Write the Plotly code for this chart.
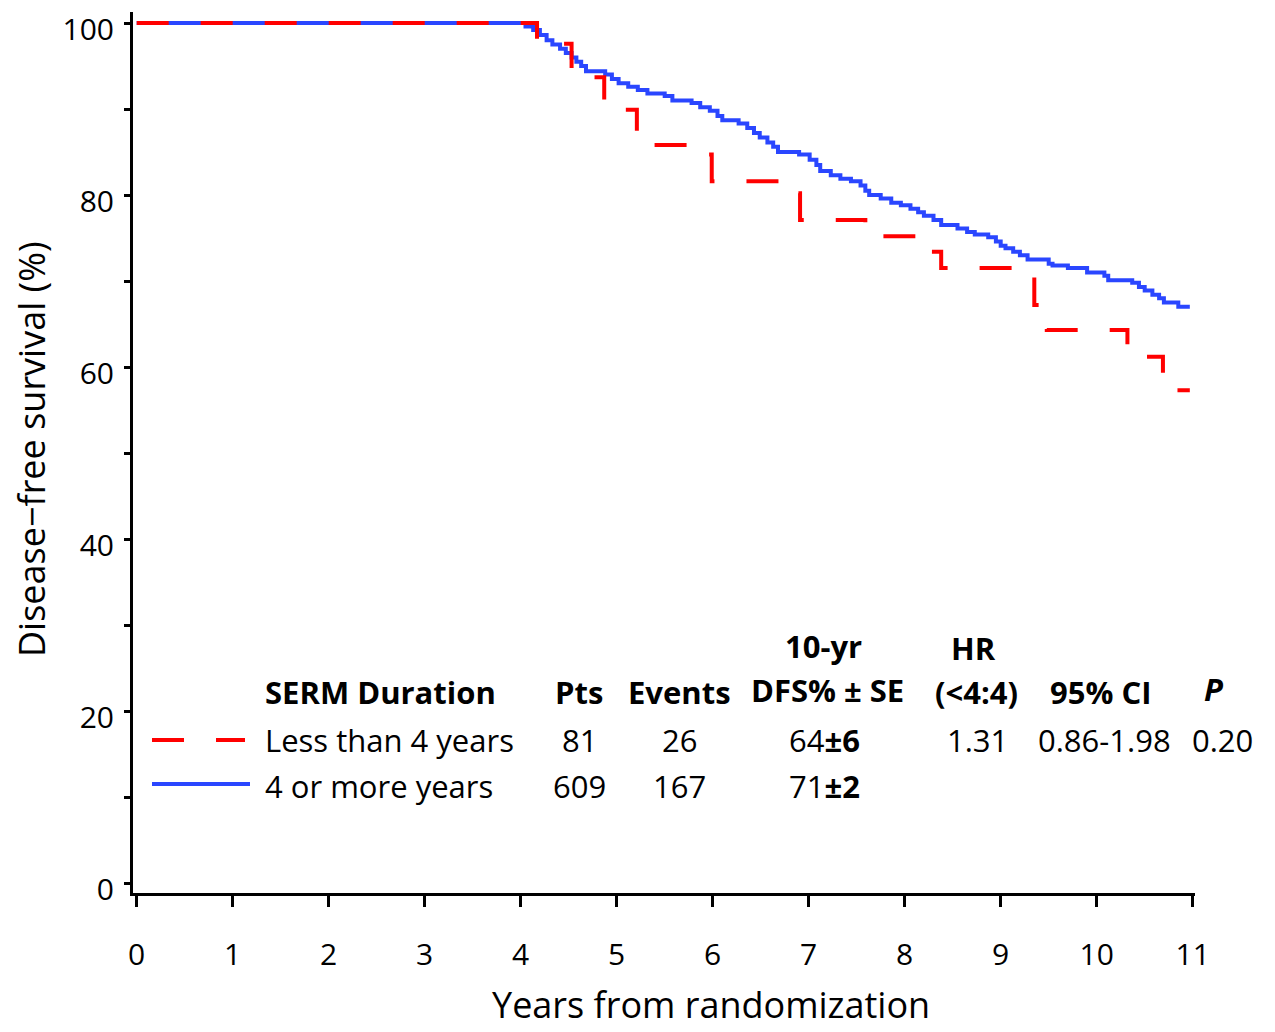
import plotly.graph_objects as go

# ---------------- data ----------------
blue_t = [0, 4.05, 4.13, 4.20, 4.27, 4.33, 4.41, 4.47, 4.53, 4.58, 4.63, 4.68, 4.88, 4.95,
          5.02, 5.12, 5.22, 5.32, 5.50, 5.58, 5.78, 5.87, 5.97, 6.05, 6.10, 6.27, 6.36,
          6.43, 6.49, 6.57, 6.63, 6.68, 6.90, 7.01, 7.08, 7.12, 7.23, 7.33, 7.44, 7.54,
          7.59, 7.63, 7.75, 7.86, 7.96, 8.06, 8.14, 8.20, 8.30, 8.38, 8.55, 8.65, 8.73,
          8.87, 8.95, 9.00, 9.05, 9.13, 9.20, 9.28, 9.50, 9.54, 9.70, 9.90, 10.08, 10.12,
          10.37, 10.44, 10.50, 10.58, 10.65, 10.70, 10.85, 10.97]
blue_s = [100, 99.6, 99.2, 98.6, 98.0, 97.5, 97.0, 96.5, 96.0, 95.5, 95.0, 94.4, 94.0, 93.5,
          93.0, 92.6, 92.2, 91.8, 91.5, 91.0, 90.7, 90.2, 89.8, 89.2, 88.7, 88.3, 87.8,
          87.2, 86.7, 86.1, 85.6, 85.0, 84.7, 84.1, 83.5, 82.8, 82.3, 81.9, 81.6, 81.1,
          80.5, 80.0, 79.6, 79.1, 78.8, 78.4, 78.0, 77.6, 77.1, 76.5, 76.1, 75.7, 75.4,
          75.1, 74.6, 74.1, 73.8, 73.4, 73.0, 72.5, 72.0, 71.8, 71.5, 71.0, 70.6, 70.1,
          69.8, 69.3, 68.9, 68.4, 68.0, 67.5, 67.0, 67.0]

red_t = [0, 4.17, 4.53, 4.87, 5.21, 5.77, 5.99, 6.77, 6.91, 7.59, 8.09, 8.38, 9.35, 9.48,
         10.32, 10.69, 10.97]
red_s = [100, 97.6, 93.7, 89.9, 85.8, 84.7, 81.6, 80.2, 77.1, 75.2, 73.4, 71.5, 67.2, 64.3,
         61.2, 57.3, 57.3]

x_ticks = list(range(0, 12))
y_ticks = list(range(0, 101, 10))
y_ticktext = [str(v) if v % 20 == 0 else "" for v in y_ticks]

groups = ["Less than 4 years", "4 or more years"]
pts = ["81", "609"]
events = ["26", "167"]
dfs = ["64<b>±6</b>", "71<b>±2</b>"]
hr = "1.31"
ci = "0.86-1.98"
pval = "0.20"

RED = "#FF0000"
BLUE = "#2A46FF"
FONT = "Open Sans"

# ---------------- layout helpers ----------------
# screen pixel -> data (axis mapping) ; screen pixel -> paper
def X(px):
    return (px - 136.7) / 96.0

def Y(py):
    return (883.0 - py) / 8.6

PL, PR, PT, PB = 133.0, 1195.0, 12.0, 893.0
def PX(px):
    return (px - PL) / (PR - PL)

def PY(py):
    return (PB - py) / (PB - PT)

fig = go.Figure()
fig.add_trace(go.Scatter(x=blue_t, y=blue_s, mode="lines", line=dict(color=BLUE, width=4, shape="hv"),
                         showlegend=False, hoverinfo="skip"))
fig.add_trace(go.Scatter(x=red_t, y=red_s, mode="lines",
                         line=dict(color=RED, width=4, shape="hv", dash="32px,32px"),
                         showlegend=False, hoverinfo="skip"))

# legend samples
fig.add_shape(type="line", x0=X(152), x1=X(245), y0=Y(740), y1=Y(740),
              line=dict(color=RED, width=4, dash="32px,32px"))
fig.add_shape(type="line", x0=X(152), x1=X(250), y0=Y(784), y1=Y(784),
              line=dict(color=BLUE, width=4))

TS = 31
def txt(px, py, s, anchor="center", vanchor="middle", bold=False, size=TS, angle=0):
    if bold:
        s = "<b>" + s + "</b>"
    fig.add_annotation(x=PX(px), y=PY(py), xref="paper", yref="paper", text=s, showarrow=False,
                       xanchor=anchor, yanchor=vanchor, textangle=angle,
                       font=dict(family=FONT, size=size, color="black"))

# headers
txt(263, 692, "SERM Duration", anchor="left", bold=True)
txt(579, 692, "Pts", bold=True)
txt(679, 692, "Events", bold=True)
txt(823, 646, "10-yr", bold=True)
txt(827, 690, "DFS% ± SE", bold=True)
txt(973, 648, "HR", bold=True)
txt(976, 692, "(<4:4)", bold=True)
txt(1100, 692, "95% CI", bold=True)
txt(1214, 689, "<i>P</i>", bold=True)

rows_y = [740, 786]
for i in range(2):
    txt(263, rows_y[i], groups[i], anchor="left")
    txt(579, rows_y[i], pts[i])
    txt(679, rows_y[i], events[i])
    txt(824, rows_y[i], dfs[i])
txt(977, 740, hr)
txt(1104, 740, ci)
txt(1222, 740, pval)

# axis titles
txt(711, 1031, "Years from randomization", vanchor="bottom", size=36)
txt(31, 449, "Disease\u2212free survival (%)", size=36, angle=-90)

# page body has an 8px margin: figure covers screen 8..1275 x 8..1032
OFF = 8
W, H = 1275 - OFF, 1032 - OFF
fig.update_layout(
    width=W, height=H,
    margin=dict(l=PL - OFF, r=W - (PR - OFF), t=PT - OFF, b=H - (PB - OFF), autoexpand=False),
    paper_bgcolor="white", plot_bgcolor="white",
    font=dict(family=FONT, size=30, color="black"),
    template="none",
)
fig.update_xaxes(range=[X(PL), X(PR)], tickvals=x_ticks, showline=True, linecolor="black",
                 linewidth=3, ticks="outside", ticklen=11, tickwidth=2.5, tickcolor="black",
                 showgrid=False, zeroline=False, ticklabelstandoff=22, automargin=False,
                 ticklabeloverflow="allow",
                 tickfont=dict(family=FONT, size=30, color="black"))
fig.update_yaxes(range=[Y(PB), Y(PT)], tickvals=y_ticks, ticktext=y_ticktext, showline=True,
                 linecolor="black", linewidth=3, ticks="outside", ticklen=6, tickwidth=2.5,
                 tickcolor="black", showgrid=False, zeroline=False, ticklabelstandoff=4,
                 ticklabelshift=6, automargin=False, ticklabeloverflow="allow",
                 tickfont=dict(family=FONT, size=30, color="black"))

fig.write_html("out.html")
